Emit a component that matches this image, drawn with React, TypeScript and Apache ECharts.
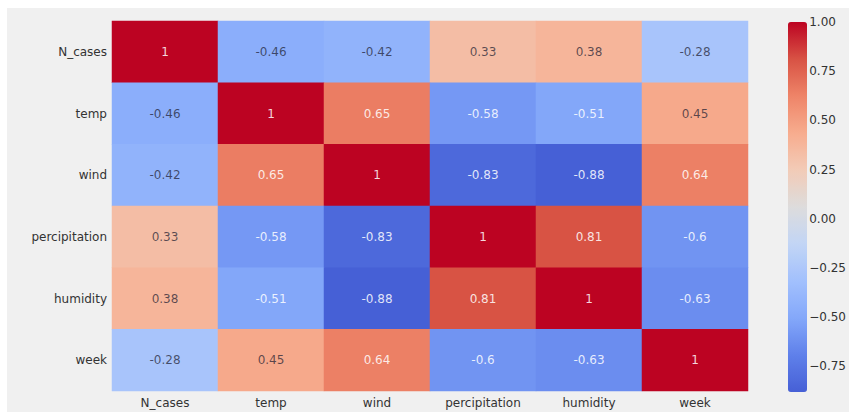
import React, { useEffect, useRef } from "react";
import * as echarts from "echarts";

// Variables of the correlation matrix (rows top-to-bottom, columns left-to-right)
const variables = ["N_cases", "temp", "wind", "percipitation", "humidity", "week"];

// Pearson correlations, one array per row
const rowNCases = [1, -0.46, -0.42, 0.33, 0.38, -0.28];
const rowTemp = [-0.46, 1, 0.65, -0.58, -0.51, 0.45];
const rowWind = [-0.42, 0.65, 1, -0.83, -0.88, 0.64];
const rowPercipitation = [0.33, -0.58, -0.83, 1, 0.81, -0.6];
const rowHumidity = [0.38, -0.51, -0.88, 0.81, 1, -0.63];
const rowWeek = [-0.28, 0.45, 0.64, -0.6, -0.63, 1];

const rows = [rowNCases, rowTemp, rowWind, rowPercipitation, rowHumidity, rowWeek];

// Colour scale limits and colourbar ticks
const scaleMin = -0.88;
const scaleMax = 1;
const colorbarTicks = [-0.75, -0.5, -0.25, 0, 0.25, 0.5, 0.75, 1];

// coolwarm-style diverging palette, 11 even steps
const coolwarm = [
  "#4660d6", "#5f80ea", "#84a8fa", "#a2c0fd", "#c2d5f5", "#dddcdc",
  "#f2cbb7", "#f7ac8e", "#ee8468", "#d85244", "#bc0322",
];

const FONT = "DejaVu Sans";
const DARK_TEXT = "rgba(30,30,50,0.72)";
const LIGHT_TEXT = "rgba(255,255,255,0.85)";

export default function App() {
  const ref = useRef<HTMLDivElement>(null);

  useEffect(() => {
    if (!ref.current) return;
    const chart = echarts.init(ref.current, null, { renderer: "svg" });

    // One heatmap item per cell; strongly coloured cells get white annotations
    const cells = rows.flatMap((row, r) =>
      row.map((v, c) => ({
        value: [c, r, v],
        label: { color: Math.abs(v) >= 0.5 ? LIGHT_TEXT : DARK_TEXT },
      }))
    );

    chart.setOption({
      animation: false,
      backgroundColor: "#ffffff",
      graphic: [
        {
          type: "rect",
          z: -10,
          silent: true,
          shape: { x: 7, y: 8, width: 842, height: 404 },
          style: { fill: "#f0f0f0" },
        },
      ],
      grid: [
        { left: 112, top: 21, width: 636, height: 370 },
        { left: 788, top: 22, width: 19, height: 370 },
      ],
      xAxis: [
        {
          type: "category",
          gridIndex: 0,
          data: variables,
          axisLine: { show: false },
          axisTick: { show: false },
          splitLine: { show: false },
          axisLabel: { color: "#333", fontFamily: FONT, fontSize: 12, margin: 6 },
        },
        { type: "value", gridIndex: 1, show: false, min: 0, max: 1 },
      ],
      yAxis: [
        {
          type: "category",
          gridIndex: 0,
          data: variables,
          inverse: true,
          axisLine: { show: false },
          axisTick: { show: false },
          splitLine: { show: false },
          axisLabel: { color: "#333", fontFamily: FONT, fontSize: 12, margin: 5 },
        },
        {
          type: "value",
          gridIndex: 1,
          position: "right",
          min: scaleMin,
          max: scaleMax,
          axisLine: { show: false },
          axisTick: { show: false },
          splitLine: { show: false },
          axisLabel: {
            customValues: colorbarTicks,
            color: "#333",
            fontFamily: FONT,
            fontSize: 12,
            margin: 5,
            formatter: (v: number) => v.toFixed(2).replace("-", "\u2212"),
          },
        },
      ],
      visualMap: {
        type: "continuous",
        seriesIndex: 0,
        min: scaleMin,
        max: scaleMax,
        calculable: false,
        orient: "vertical",
        left: 788,
        top: 22,
        padding: 0,
        itemWidth: 19,
        itemHeight: 370,
        text: ["", ""],
        showLabel: false,
        inRange: { color: coolwarm },
      },
      series: [
        {
          type: "heatmap",
          xAxisIndex: 0,
          yAxisIndex: 0,
          data: cells,
          itemStyle: { borderWidth: 0 },
          label: {
            show: true,
            fontFamily: FONT,
            fontSize: 12,
            formatter: (p: any) => String(p.value[2]),
          },
          emphasis: { disabled: true },
        },
        {
          type: "scatter",
          xAxisIndex: 1,
          yAxisIndex: 1,
          data: [],
        },
      ],
    });

    return () => chart.dispose();
  }, []);

  return (
    <div
      ref={ref}
      style={{ position: "fixed", left: 0, top: 0, width: 849, height: 412 }}
    />
  );
}
